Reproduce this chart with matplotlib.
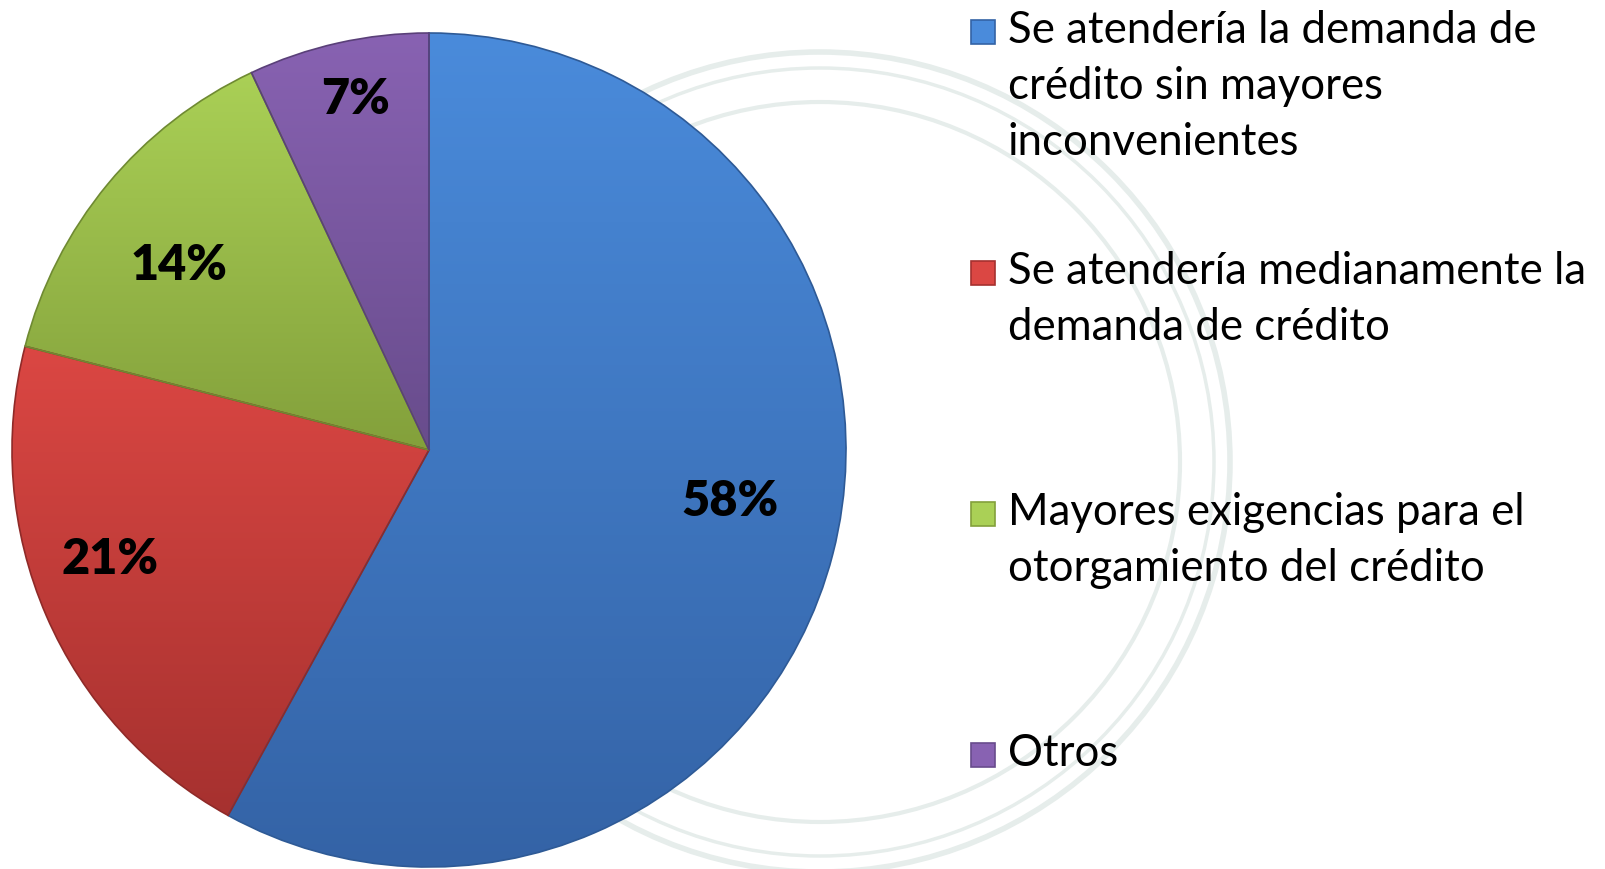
import matplotlib
matplotlib.use('Agg')
from matplotlib import pyplot as plt
from matplotlib.patches import Rectangle, Circle
from matplotlib.colors import LinearSegmentedColormap
import numpy as np

labels = ['Se atendería la demanda de\ncrédito sin mayores\ninconvenientes',
          'Se atendería medianamente la\ndemanda de crédito',
          'Mayores exigencias para el\notorgamiento del crédito',
          'Otros']
values = [58, 21, 14, 7]
top_colors = ['#4A8BDB', '#DB4743', '#AAD056', '#8862B2']
bottom_colors = ['#3463A6', '#A6312F', '#83A03B', '#684C8C']
edge_colors = ['#2E5A96', '#8F2A28', '#6F8A32', '#5A4079']

# label placement (fraction of radius from the centre)
label_pos = [(0.722, -0.122), (-0.765, -0.259), (-0.600, 0.444), (-0.177, 0.842)]

W, H = 1606, 870
fig = plt.figure(figsize=(W / 100, H / 100), dpi=100)
ax = fig.add_axes([0, 0, 1, 1])

# faint seal in the background
seal = '#E6EDEB'
for r, lw in [(410, 4), (394, 2.5), (360, 3)]:
    ax.add_patch(Circle((820, 407), r, fill=False, ec=seal, lw=lw, zorder=0))

cx, cy, R = 429, H - 451, 417
wedges, texts, autotexts = ax.pie(values, center=(cx, cy), radius=R, startangle=90,
                                  counterclock=False, colors=top_colors,
                                  autopct='%1.0f%%', frame=True,
                                  wedgeprops=dict(linewidth=1.2))
ax.set_xlim(0, W)
ax.set_ylim(0, H)
ax.set_aspect('equal')
ax.axis('off')

for w, c0, c1, ec in zip(wedges, top_colors, bottom_colors, edge_colors):
    w.set_edgecolor(ec)
    ext = w.get_path().get_extents()
    cmap = LinearSegmentedColormap.from_list('g', [c1, c0])
    grad = np.linspace(0, 1, 256).reshape(-1, 1)
    im = ax.imshow(grad, cmap=cmap, origin='lower', aspect='auto',
                   extent=[ext.x0, ext.x1, ext.y0, ext.y1], zorder=w.get_zorder() + 0.1)
    im.set_clip_path(w)
    w.set_zorder(w.get_zorder() + 0.2)
    w.set_facecolor('none')

for t, (fx, fy) in zip(autotexts, label_pos):
    t.set_position((cx + fx * R, cy + fy * R))
    t.set_fontsize(35)
    t.set_fontweight('heavy')
    t.set_family('Lato')
    t.set_color('black')
    t.set_zorder(5)

# legend drawn by hand so entries are evenly spaced
lx, ly0, step = 971, H - 33, 241
for i, (lab, c0, c1) in enumerate(zip(labels, top_colors, bottom_colors)):
    y = ly0 - i * step
    ax.add_patch(Rectangle((lx, y - 12), 24, 24, fc=c0, ec=c1, lw=1.2, zorder=3))
    ax.text(lx + 37, y + 23, lab, fontsize=31.5, family='Lato', va='top', ha='left',
            linespacing=1.46, color='black', zorder=3)

plt.savefig('out.png', dpi=100)
